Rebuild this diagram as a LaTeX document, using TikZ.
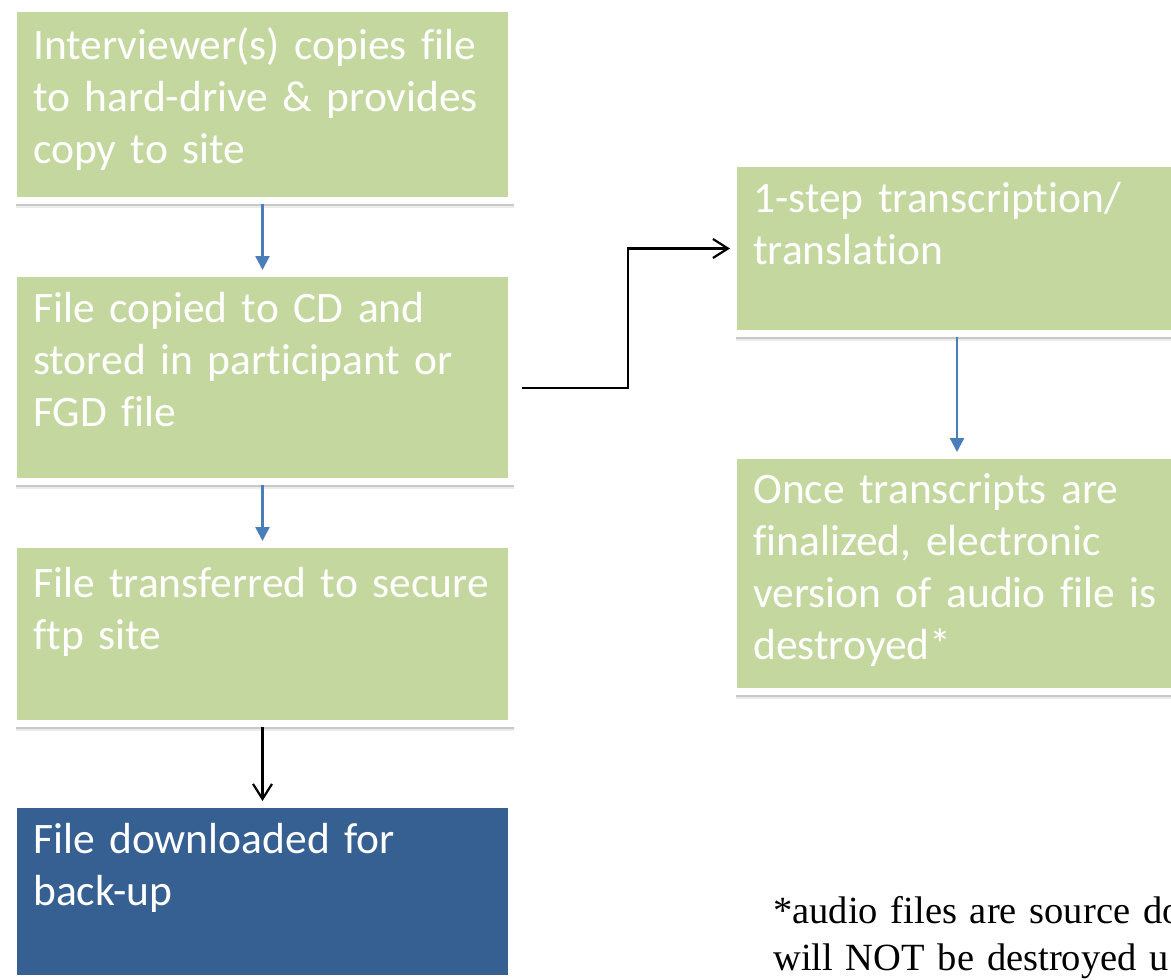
\documentclass[tikz,border=0pt]{standalone}
\usepackage{fontspec}
\setmainfont{Carlito}[Ligatures={NoCommon}]
\newfontfamily\notefont{Liberation Serif}
\usetikzlibrary{arrows.meta,shadows,calc}
\definecolor{boxgreen}{RGB}{196,215,159}
\definecolor{boxblue}{RGB}{55,96,146}
\definecolor{arrowblue}{RGB}{74,126,187}
\begin{document}
\begin{tikzpicture}[x=1pt,y=-1pt,
  frame/.style={draw=white, line width=7pt,
    drop shadow={shadow xshift=1pt, shadow yshift=-2pt, opacity=0.12, fill=black},
    drop shadow={shadow xshift=2pt, shadow yshift=-5pt, opacity=0.15, fill=black},
    drop shadow={shadow xshift=2.5pt, shadow yshift=-7pt, opacity=0.08, fill=black},
    minimum width=498pt, inner sep=0pt},
  gbox/.style={frame, fill=boxgreen},
  bbox/.style={frame, fill=boxblue},
  txt/.style={text=white, anchor=north west, inner sep=0pt, align=left,
    text width=475pt, font=\fontsize{43.5}{52}\selectfont},
  barrow/.style={draw=arrowblue, line width=2.4pt, -{Triangle[width=14pt,length=14pt]}},
  karrow/.style={draw=black, line width=2.2pt, -{Straight Barb[width=19pt,length=15pt]}},
  note/.style={text=black, anchor=north west, inner sep=0pt, align=left,
    text width=600pt, font=\notefont\fontsize{38.5}{47}\selectfont}]
\useasboundingbox (0,0) rectangle (1171,980);
\clip (0,0) rectangle (1171,980);
% boxes
\node[gbox, minimum height=192pt] (b1) at (262.5,104.5) {};
\node[gbox, minimum height=208pt] (b2) at (262.5,377.5) {};
\node[gbox, minimum height=179pt] (b3) at (262.5,634) {};
\node[bbox, minimum height=174pt] (b4) at (262.5,891.5) {};
\node[gbox, minimum width=480pt, minimum height=170pt] (b5) at (973.5,248.5) {};
\node[gbox, minimum width=480pt, minimum height=236pt] (b6) at (973.5,573.5) {};
% texts
\node[txt] (t1) at (33,22.6) {\strut Interviewer(s) copies file\\to hard-drive \& provides\\copy to site};
\node[txt] (t2) at (33,285.6) {\strut File copied to CD and\\stored in participant or\\FGD file};
\node[txt] (t3) at (33,560.6) {\strut File transferred to secure\\ftp site};
\node[txt] (t4) at (33,816.6) {\strut File downloaded for\\back-up};
\node[txt] (t5) at (753,175.6) {\strut 1-step transcription/\\translation};
\node[txt] (t6) at (753,466.6) {\strut Once transcripts are\\finalized, electronic\\version of audio file is\\destroyed*};
\node[note] (n1) at (773,890.1) {\strut *audio files are source do\\will NOT be destroyed u};
% connectors
\coordinate (c) at (957,0);
\draw[barrow] (b1.south) -- (b2.north);
\draw[barrow] (b2.south) -- (b3.north);
\draw[karrow] (b3.south) -- (b4.north);
\draw[barrow] (b5.south -| c) -- (b6.north -| c);
\coordinate (e1) at ([xshift=7pt,yshift=-10.5pt]b2.east);
\coordinate (e2) at (628,388);
\draw[karrow] (e1) -- (e2) |- (b5.west);
\end{tikzpicture}
\end{document}
